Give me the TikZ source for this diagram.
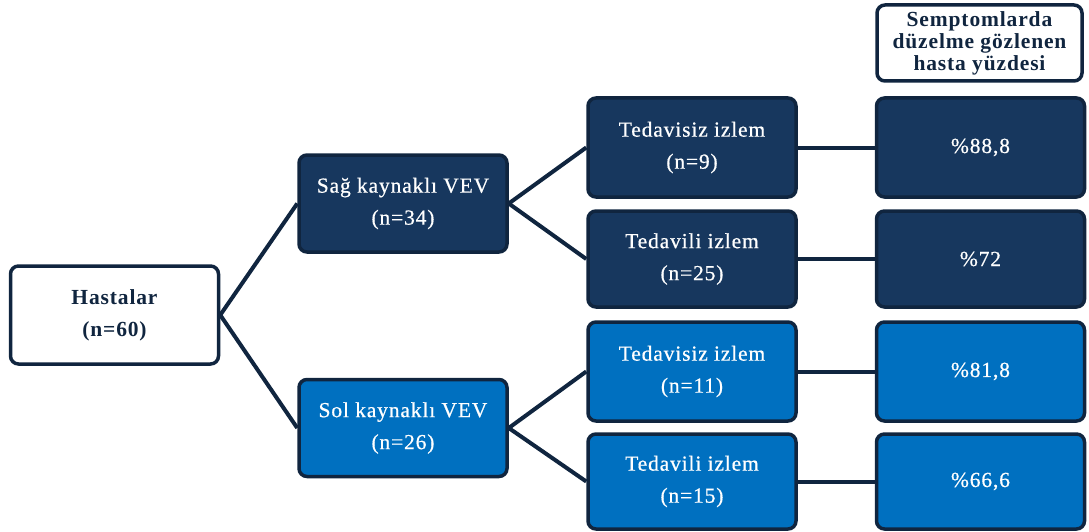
\documentclass[tikz,border=0pt]{standalone}
\usepackage{fontspec}
\setmainfont{Liberation Serif}
\newfontfamily\lblfont[LetterSpace=4,FakeBold=0.6]{Liberation Serif}
\newfontfamily\hdfont[LetterSpace=4]{Liberation Serif}
\definecolor{navy}{HTML}{17375E}
\definecolor{bluefill}{HTML}{0070C0}
\definecolor{edgec}{HTML}{10253F}
\tikzset{
  box/.style={draw=edgec, line width=3.5pt, rounded corners=8pt, minimum width=208pt,
    minimum height=98pt, inner sep=0pt, align=center,
    font=\lblfont\fontsize{21.5}{32}\selectfont},
  darkbox/.style={box, fill=navy, text=white},
  bluebox/.style={box, fill=bluefill, text=white},
  whitebox/.style={box, fill=white, text=edgec},
  conn/.style={draw=edgec, line width=4pt}
}
\begin{document}
\begin{tikzpicture}[x=1pt,y=-1pt]
\useasboundingbox (0,0) rectangle (1089,532);
\node[whitebox, font=\hdfont\bfseries\fontsize{21.5}{32}\selectfont] (h) at (114.5,315) {Hastalar\\(n=60)};
\node[darkbox, minimum height=97pt] (s1) at (403,203.5) {Sağ kaynaklı VEV\\(n=34)};
\node[bluebox, minimum height=97pt] (s2) at (403,428) {Sol kaynaklı VEV\\(n=26)};
\node[darkbox, minimum height=99pt] (t1) at (692,147.5) {Tedavisiz izlem\\(n=9)};
\node[darkbox, minimum height=96pt] (t2) at (692,259) {Tedavili izlem\\(n=25)};
\node[bluebox, minimum height=99pt] (t3) at (692,371.5) {Tedavisiz izlem\\(n=11)};
\node[bluebox, minimum height=95pt] (t4) at (692,481.5) {Tedavili izlem\\(n=15)};
\node[darkbox, minimum height=99pt] (p1) at (980.5,147.5) {\%88,8};
\node[darkbox, minimum height=96pt] (p2) at (980.5,259) {\%72};
\node[bluebox, minimum height=99pt] (p3) at (980.5,371.5) {\%81,8};
\node[bluebox, minimum height=95pt] (p4) at (980.5,481.5) {\%66,6};
\node[whitebox, minimum width=205pt, minimum height=76pt,
  font=\hdfont\bfseries\fontsize{21.5}{22}\selectfont] (hd) at (979.5,43)
  {Semptomlarda\\düzelme gözlenen\\hasta yüzdesi};
\draw[conn] (h.east) -- (s1.west);
\draw[conn] (h.east) -- (s2.west);
\draw[conn] (s1.east) -- (t1.west);
\draw[conn] (s1.east) -- (t2.west);
\draw[conn] (s2.east) -- (t3.west);
\draw[conn] (s2.east) -- (t4.west);
\draw[conn] (t1.east) -- (p1.west);
\draw[conn] (t2.east) -- (p2.west);
\draw[conn] (t3.east) -- (p3.west);
\draw[conn] (t4.east) -- (p4.west);
\end{tikzpicture}
\end{document}
